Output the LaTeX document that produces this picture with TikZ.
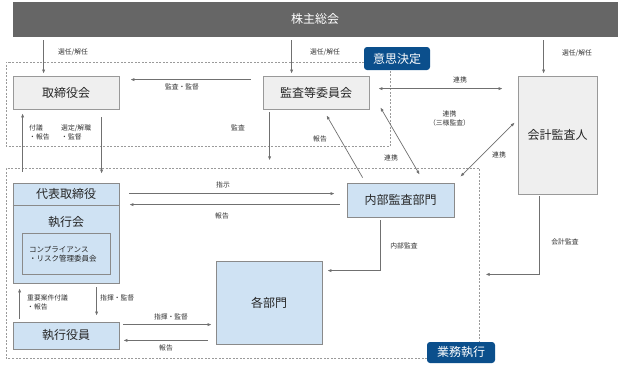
\documentclass[tikz,border=0pt]{standalone}
\usepackage{fontspec}
\setmainfont{Noto Sans CJK JP}
\usetikzlibrary{arrows.meta,calc}
\definecolor{gmfill}{HTML}{666666}
\definecolor{grayfill}{HTML}{EFEFEF}
\definecolor{bluefill}{HTML}{CFE2F3}
\definecolor{boxline}{HTML}{999999}
\definecolor{bboxline}{HTML}{8A8A8A}
\definecolor{arrcol}{HTML}{707070}
\definecolor{badgecol}{HTML}{0B4F8C}
\definecolor{dashcol}{HTML}{9A9A9A}
\definecolor{lbl}{HTML}{333333}
\begin{document}
\begin{tikzpicture}[x=1pt,y=-1pt,
  bigtext/.style={font=\fontsize{12}{14}\selectfont,text=black!85},
  graybox/.style={bigtext,draw=boxline,fill=grayfill,line width=0.8pt,inner sep=0pt},
  bluebox/.style={bigtext,draw=bboxline,fill=bluefill,line width=0.8pt,inner sep=0pt},
  arr/.style={draw=arrcol,line width=0.7pt,-{Latex[length=4pt,width=3.2pt]}},
  darr/.style={draw=arrcol,line width=0.7pt,{Latex[length=4pt,width=3.2pt]}-{Latex[length=4pt,width=3.2pt]}},
  lab/.style={font=\fontsize{6.8}{9}\selectfont,text=lbl,inner sep=0pt},
  badgebox/.style={fill=badgecol,rounded corners=3pt,text=white,font=\fontsize{12}{14}\selectfont,inner sep=0pt},
  dashedframe/.style={draw=dashcol,dash pattern=on 2pt off 1.5pt,line width=0.6pt}
]
\useasboundingbox (0,0) rectangle (624,365);

% dashed frames
\draw[dashedframe] (364,62) -- (6,62) -- (6,146) -- (390,146) -- (390,70);
\draw[dashedframe] (427,358) -- (6,358) -- (6,168) -- (479,168) -- (479,342);

% top bar
\node[draw=black!60,fill=gmfill,minimum width=604pt,minimum height=34pt,inner sep=0pt,text=white,font=\fontsize{12}{14}\selectfont] (gm) at (315,19) {株主総会};

% boxes
\node[graybox,minimum width=106pt,minimum height=33pt] (tb) at (66,92.5) {取締役会};
\node[graybox,minimum width=106pt,minimum height=33pt] (ac) at (316,92.5) {監査等委員会};
\node[graybox,minimum width=79pt,minimum height=118pt] (ea) at (557.5,135) {会計監査人};

\node[bluebox,minimum width=106pt,minimum height=100pt] (rep) at (66,233) {};
\draw[draw=bboxline,line width=0.8pt] (rep.west |- 0,205) -- (rep.east |- 0,205);
\node[bigtext,inner sep=0pt] (reptitle) at (66,194) {代表取締役};
\node[bigtext,inner sep=0pt] (execm) at (66,222) {執行会};
\node[draw=bboxline,line width=0.8pt,minimum width=88pt,minimum height=41pt,inner sep=0pt] (comp) at (66,253.5) {};
\node[font=\fontsize{7.5}{9}\selectfont,text=black!85,align=left,anchor=west,inner sep=0pt] (comptext) at (29,254.5) {コンプライアンス\\・リスク管理委員会};

\node[bluebox,minimum width=106pt,minimum height=27pt] (eo) at (66,335.5) {執行役員};
\node[bluebox,minimum width=106pt,minimum height=83pt] (dept) at (269,302.5) {各部門};
\node[bluebox,minimum width=107pt,minimum height=34pt] (ia) at (400.5,200) {内部監査部門};

% badges
\node[badgebox,minimum width=66pt,minimum height=23pt] (dec) at (397,58.5) {意思決定};
\node[badgebox,minimum width=68pt,minimum height=21pt] (exe) at (461,352.5) {業務執行};

% connectors
\draw[arr] ($(tb.north west |- gm.south)+(31,4)$) -- ($(tb.north west)+(31,-2)$);
\draw[arr] ($(ac.north west |- gm.south)+(29,4)$) -- ($(ac.north west)+(29,-2)$);
\draw[arr] ($(ea.north west |- gm.south)+(26,4)$) -- ($(ea.north west)+(26,-2)$);
\draw[arr] ($(ac.north west)+(-12,4)$) -- ($(tb.north east)+(11,4)$);
\draw[darr] ($(ac.north east)+(9,13)$) -- ($(ea.north west)+(-15,13)$);
\draw[arr] ($(ac.south west)+(7,3)$) -- ($(ac.south west)+(7,51)$);
\draw[arr] ($(tb.south west)+(89,8)$) -- ($(rep.north west)+(89,-9)$);
\draw[arr] ($(rep.north west)+(10,-11)$) -- ($(tb.south west)+(10,4)$);
\draw[arr] ($(rep.north east)+(10,11)$) -- ($(ia.north west)+(-12,11)$);
\draw[arr] ($(ia.north west)+(-7,22)$) -- ($(rep.north east)+(10,22)$);
\draw[arr] ($(ia.north west)+(16,-5)$) -- ($(ac.south west)+(64,6)$);
\draw[darr] ($(ac.south east)+(11,-2)$) -- ($(ia.north west)+(73,-8)$);
\draw[darr] ($(ea.north west)+(-3,47)$) -- ($(ia.north east)+(6,-6)$);
\draw[arr] ($(ia.south west)+(34,3)$) |- ($(dept.north east)+(5,10)$);
\draw[arr] ($(ea.south west)+(22,2)$) |- ($(ea.south west)+(-32,80)$);
\draw[arr] ($(rep.south west)+(84,4)$) -- ($(eo.north west)+(84,-6)$);
\draw[arr] ($(eo.north west)+(7,-3)$) -- ($(rep.south west)+(7,5)$);
\draw[arr] ($(eo.north east)+(4,3)$) -- ($(dept.west |- eo.north)+(-4,3)$);
\draw[arr] ($(dept.west |- eo.south)+(-8,-9)$) -- ($(eo.south east)+(4,-9)$);

% labels
\node[lab] (l1) at (73,52) {選任/解任};
\node[lab] (l2) at (325,52) {選任/解任};
\node[lab] (l3) at (577,53) {選任/解任};
\node[lab] (l4) at (182,87) {監査・監督};
\node[lab] (l5) at (460,80) {連携};
\node[lab,align=center] (l6) at (449.5,118.5) {連携\\（三様監査）};
\node[lab] (l7) at (238,128) {監査};
\node[lab] (l8) at (320,139) {報告};
\node[lab] (l9) at (391,158) {連携};
\node[lab] (l10) at (499,155) {連携};
\node[lab,align=left,anchor=west] (l11) at (29,132.5) {付議\\・報告};
\node[lab,align=left,anchor=west] (l12) at (61,132) {選定/解職\\・監督};
\node[lab] (l13) at (223,185) {指示};
\node[lab] (l14) at (222,216) {報告};
\node[lab] (l15) at (404,246) {内部監査};
\node[lab] (l16) at (565,242) {会計監査};
\node[lab,align=left,anchor=west] (l17) at (27,302.5) {重要案件付議\\・報告};
\node[lab,anchor=west] (l18) at (100,298) {指揮・監督};
\node[lab] (l19) at (171,317) {指揮・監督};
\node[lab] (l20) at (166,348) {報告};
\end{tikzpicture}
\end{document}
